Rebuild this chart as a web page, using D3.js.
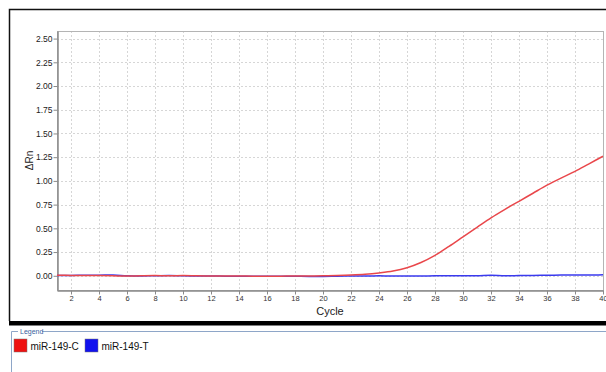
<!DOCTYPE html>
<html>
<head>
<meta charset="utf-8">
<script src="https://cdn.jsdelivr.net/npm/d3@7"></script>
<style>
  html, body { margin: 0; padding: 0; background: #fff; }
  svg { display: block; font-family: "Liberation Sans", Arial, sans-serif; }
</style>
</head>
<body>
<svg id="chart" width="606" height="372"></svg>
<script>
// Amplification plot data: ΔRn per cycle for each sample
const cycles = d3.range(1, 41);
const mir149C = [0.005, 0.004, 0.004, 0.003, 0.000, -0.003, 0.000, 0.002, 0.000, 0.003,
                 0.000, -0.002, -0.003, -0.003, -0.004, -0.004, -0.004, -0.003, -0.002, 0.000,
                 0.003, 0.008, 0.016, 0.030, 0.050, 0.085, 0.140, 0.215, 0.310, 0.410,
                 0.510, 0.610, 0.700, 0.785, 0.870, 0.955, 1.030, 1.100, 1.180, 1.260];
const mir149T = [0.003, 0.004, 0.005, 0.006, 0.008, 0.000, -0.002, 0.000, 0.002, 0.000,
                 -0.002, -0.003, -0.004, -0.004, -0.005, -0.005, -0.006, -0.006, -0.007, -0.008,
                 -0.005, -0.003, -0.002, -0.001, -0.002, -0.003, -0.002, -0.001, 0.000, -0.001,
                 0.000, 0.006, 0.000, 0.002, 0.004, 0.006, 0.007, 0.009, 0.008, 0.012];
const seriesNames = ["miR-149-C", "miR-149-T"];
const lineColors = ["#e9474b", "#3a3aee"];
const swatchColors = ["#ee1111", "#1111ee"];
const xTicks = d3.range(2, 41, 2);
const yTicks = [0, 0.25, 0.5, 0.75, 1.0, 1.25, 1.5, 1.75, 2.0, 2.25, 2.5];

const svg = d3.select("#chart");
const W = 606, H = 372;
const plot = { left: 57, top: 31, right: 603, bottom: 290 };

const x = d3.scaleLinear().domain([1, 40]).range([plot.left, plot.right]);
const y = d3.scaleLinear().domain([-0.15, 2.58]).range([plot.bottom, plot.top]);

// Window frame
svg.append("path")
  .attr("d", `M9.5,321 L9.5,9.5 L${W},9.5`)
  .attr("fill", "none").attr("stroke", "#111").attr("stroke-width", 1.5);
svg.append("rect").attr("x", 9).attr("y", 321).attr("width", W - 9).attr("height", 4.5).attr("fill", "#000");

// Grid
const grid = svg.append("g").attr("stroke", "#d6d6d6").attr("stroke-dasharray", "2,2").attr("stroke-width", 1);
grid.selectAll("line.v").data(xTicks).join("line")
  .attr("x1", d => Math.round(x(d)) + 0.5).attr("x2", d => Math.round(x(d)) + 0.5)
  .attr("y1", plot.top).attr("y2", plot.bottom);
grid.selectAll("line.h").data(yTicks).join("line")
  .attr("y1", d => Math.round(y(d)) + 0.5).attr("y2", d => Math.round(y(d)) + 0.5)
  .attr("x1", plot.left).attr("x2", plot.right);

// Plot border
svg.append("rect")
  .attr("x", plot.left + 0.5).attr("y", plot.top + 0.5)
  .attr("width", plot.right - plot.left).attr("height", plot.bottom - plot.top)
  .attr("fill", "none").attr("stroke", "#b4b4b4");

// Axes
const xAxis = svg.append("g")
  .attr("transform", `translate(0,${plot.bottom + 0.5})`)
  .call(d3.axisBottom(x).tickValues(xTicks).tickSize(4).tickSizeOuter(0).tickFormat(d3.format("d")));
const yAxis = svg.append("g")
  .attr("transform", `translate(${plot.left + 0.5},0)`)
  .call(d3.axisLeft(y).tickValues(yTicks).tickSize(4).tickSizeOuter(0).tickFormat(d3.format(".2f")));
[xAxis, yAxis].forEach(a => {
  a.select(".domain").attr("stroke", "#8a8a8a").attr("stroke-width", 1.5);
  a.selectAll(".tick line").attr("stroke", "#8a8a8a");
});
xAxis.selectAll("text").attr("font-size", 7.5).attr("fill", "#333").attr("y", 5).attr("dy", "0.75em")
  .attr("font-family", "Liberation Sans, Arial, sans-serif");
yAxis.selectAll("text").attr("font-size", 8.5).attr("fill", "#222")
  .attr("font-family", "Liberation Sans, Arial, sans-serif").attr("x", -5);

// Axis titles
svg.append("text").attr("x", (plot.left + plot.right) / 2).attr("y", 315)
  .attr("text-anchor", "middle").attr("font-size", 11).attr("fill", "#222").text("Cycle");
svg.append("text")
  .attr("transform", `translate(33,${(plot.top + plot.bottom) / 2}) rotate(-90)`)
  .attr("text-anchor", "middle").attr("font-size", 10).attr("fill", "#222").text("ΔRn");

// Amplification curves
const line = d3.line().x((d, i) => x(cycles[i])).y(d => y(d)).curve(d3.curveMonotoneX);
const curves = svg.append("g").attr("fill", "none").attr("stroke-width", 1.5);
curves.append("path").datum(mir149T).attr("d", line).attr("stroke", lineColors[1]);
curves.append("path").datum(mir149C).attr("d", line).attr("stroke", lineColors[0]);

// Legend group box
const lg = svg.append("g");
lg.append("path")
  .attr("d", `M11.5,${H} L11.5,331.5 L18,331.5 M42,331.5 L${W},331.5`)
  .attr("fill", "none").attr("stroke", "#8ea6c8").attr("stroke-width", 1);
lg.append("text").attr("x", 20).attr("y", 334).attr("font-size", 7).attr("fill", "#3a5f9e").text("Legend");

const legendX = [14, 85];
seriesNames.forEach((name, i) => {
  lg.append("rect").attr("x", legendX[i]).attr("y", 339).attr("width", 13).attr("height", 13)
    .attr("fill", swatchColors[i]).attr("stroke", "#777").attr("stroke-width", 0.5);
  lg.append("text").attr("x", legendX[i] + 16.5).attr("y", 350).attr("font-size", 10).attr("fill", "#111").text(name);
});
</script>
</body>
</html>
